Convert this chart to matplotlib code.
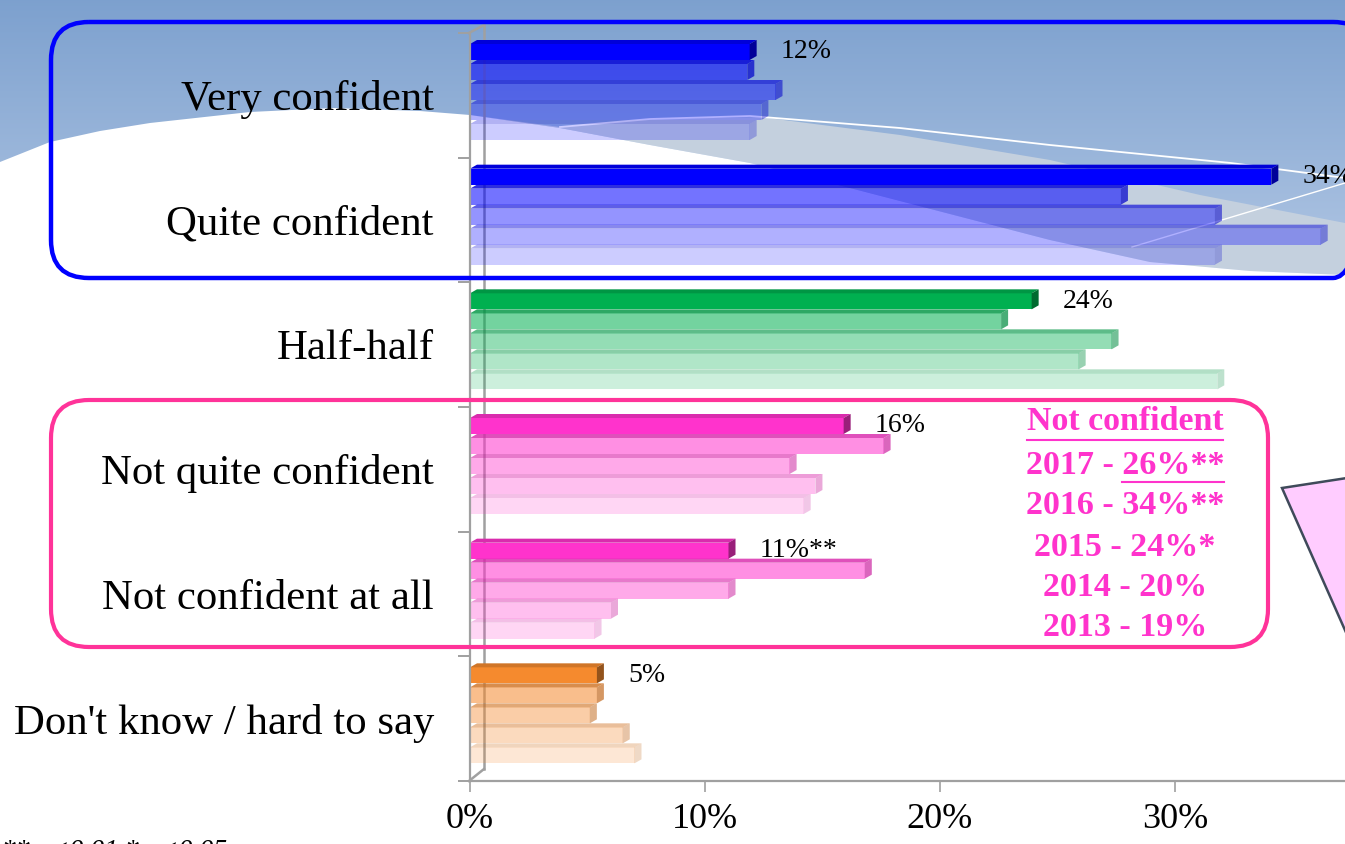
import numpy as np
import matplotlib
matplotlib.use('Agg')
import matplotlib.pyplot as plt
from matplotlib.patches import FancyBboxPatch, Polygon
from matplotlib.colors import to_rgb

plt.rcParams['font.family'] = ['Liberation Serif', 'DejaVu Serif']

# data (%), categories top -> bottom
categories = ['Very confident', 'Quite confident', 'Half-half',
              'Not quite confident', 'Not confident at all', "Don't know / hard to say"]
years = [2017, 2016, 2015, 2014, 2013]
v2017 = [11.9, 34.1, 23.9, 15.9, 11.0, 5.4]
v2016 = [11.8, 27.7, 22.6, 17.6, 16.8, 5.4]
v2015 = [13.0, 31.7, 27.3, 13.6, 11.0, 5.1]
v2014 = [12.4, 36.2, 25.9, 14.7, 6.0, 6.5]
v2013 = [11.9, 31.7, 31.8, 14.2, 5.3, 7.0]
labels_2017 = ['12%', '34%', '24%', '16%', '11%**', '5%']
xticks = [0, 10, 20, 30]
xticklabels = ['0%', '10%', '20%', '30%']
nc_title = 'Not confident'
nc_totals = ['26%**', '34%**', '24%*', '20%', '19%']
footnote = '** p<0.01 * p<0.05'

series = [v2017, v2016, v2015, v2014, v2013]
alphas = [1.0, 0.55, 0.42, 0.31, 0.2]
cat_colors = ['#0000FF', '#0000FF', '#00B050', '#FF33CC', '#FF33CC', '#F58A2E']

W, H = 1345, 844
fig = plt.figure(figsize=(W / 100, H / 100), dpi=100)
fig.patch.set_facecolor('white')

# ---- background (pixel coordinates)
bg = fig.add_axes([0, 0, 1, 1], zorder=0)
grad = np.linspace(0, 1, 300)[:, None, None]
top_c = np.array([0.49, 0.63, 0.81])
bot_c = np.array([0.71, 0.79, 0.90])
bg.imshow(top_c + (bot_c - top_c) * grad, extent=[0, W, 300, 0], aspect='auto')
white_top = [(0, 162), (50, 142), (100, 131), (150, 123), (250, 112), (333, 108),
             (420, 111), (470, 115), (560, 128), (650, 145), (750, 163), (850, 188),
             (950, 214), (1050, 240), (1150, 262), (1250, 271), (1345, 275)]
band_top = [(560, 127), (650, 119), (760, 117), (900, 135), (1050, 160),
            (1200, 195), (1345, 223)]
bg.add_patch(Polygon(band_top + white_top[::-1][:10], closed=True,
                     facecolor='#C4D0DE', edgecolor='none'))
bg.add_patch(Polygon(white_top + [(W, H), (0, H)], closed=True,
                     facecolor='white', edgecolor='none'))
swoosh = np.array([(560, 127), (650, 119), (750, 116), (900, 128), (1050, 145),
                   (1231, 163), (1345, 178)])
bg.plot(swoosh[:, 0], swoosh[:, 1], color='white', lw=1.3)
bg.plot([1132, 1345], [247, 183], color='white', lw=1)
# back wall of the 3D frame
axc = '#A0A0A0'
bg.plot([484, 484], [25, 769], color=axc, lw=1.8)
bg.plot([469, 484], [33, 25], color=axc, lw=1.8)
bg.plot([469, 484], [781, 769], color=axc, lw=1.8)
bg.set_xlim(0, W)
bg.set_ylim(H, 0)
bg.axis('off')

# ---- main chart
x0_px, ytop_px, ybot_px, px_per_pct = 470, 33, 781, 23.5
ax = fig.add_axes([x0_px / W, (H - ybot_px) / H, 1 - x0_px / W, (ybot_px - ytop_px) / H],
                  zorder=1)
ax.patch.set_visible(False)
px_per_unit = (ybot_px - ytop_px) / len(categories)
slot = 20 / px_per_unit
start = 7 / px_per_unit
dy = 4 / px_per_unit
dx = 7 / px_per_pct


def darker(c, f):
    return tuple(np.array(to_rgb(c)) * f)


for j, vals in enumerate(series):
    a = alphas[j]
    tops = np.arange(len(categories)) + start + j * slot
    ax.barh(tops + dy + (slot - dy) / 2, vals, height=slot - dy,
            color=[to_rgb(c) + (a,) for c in cat_colors], edgecolor='none')
    for i, v in enumerate(vals):
        t, b = tops[i], tops[i] + slot
        ftop = darker(cat_colors[i], 0.85) + (min(1, a * 1.5),)
        fside = darker(cat_colors[i], 0.6 if j == 0 else 0.8) + (min(1, a * 1.3),)
        ax.add_patch(Polygon([(0, t + dy), (dx, t), (v + dx, t), (v, t + dy)],
                             closed=True, facecolor=ftop, edgecolor='none'))
        ax.add_patch(Polygon([(v, t + dy), (v + dx, t), (v + dx, b - dy), (v, b)],
                             closed=True, facecolor=fside, edgecolor='none'))

for i, lab in enumerate(labels_2017):
    yc = i + start + dy + (slot - dy) / 2
    ax.annotate(lab, (v2017[i], yc), xytext=(31, 0), textcoords='offset pixels',
                ha='left', va='center', fontsize=20, color='black')

ax.set_xlim(0, (W - x0_px) / px_per_pct)
ax.set_ylim(len(categories), 0)
ax.set_xticks(xticks)
ax.set_xticklabels(xticklabels)
ax.set_yticks(np.arange(len(categories)) + 0.5)
ax.set_yticklabels(categories)
ax.set_yticks(np.arange(len(categories) + 1), minor=True)
ax.tick_params(axis='y', which='major', length=0, pad=26, labelsize=30.8)
ax.tick_params(axis='y', which='minor', length=8.6, width=1.4, color=axc)
ax.tick_params(axis='x', length=8, width=1.2, color=axc, labelsize=26, pad=8)
for s in ['top', 'right']:
    ax.spines[s].set_visible(False)
for s in ['left', 'bottom']:
    ax.spines[s].set_color(axc)
    ax.spines[s].set_linewidth(1.6)
    ax.spines[s].set_zorder(5)

# ---- overlay: group boxes, call-out, summary text
ov = fig.add_axes([0, 0, 1, 1], zorder=2)
ov.set_xlim(0, W)
ov.set_ylim(H, 0)
ov.axis('off')
ov.add_patch(FancyBboxPatch((51, 22), 1320, 256, boxstyle='round,pad=0,rounding_size=38',
                            facecolor='none', edgecolor='#0000FF', lw=3.2))
ov.add_patch(FancyBboxPatch((51, 400), 1217, 247, boxstyle='round,pad=0,rounding_size=38',
                            facecolor='none', edgecolor='#FF3399', lw=3.0))
ov.add_patch(Polygon([(1282, 488), (1360, 476), (1360, 664)], closed=True,
                     facecolor='#FFCCFF', edgecolor='#3F4A5A', lw=1.8))

pink = '#FF33CC'
ys = [422, 465, 505, 547, 588, 628]
title_t = ov.text(1125, ys[0], nc_title, ha='center', va='center', fontsize=24.5,
                  fontweight='bold', color=pink)
line_texts = []
for k, (yr, tot) in enumerate(zip(years, nc_totals)):
    line_texts.append(ov.text(1125, ys[k + 1], f'{yr} - {tot}', ha='center', va='center',
                              fontsize=24.5, fontweight='bold', color=pink))

fig.canvas.draw()
r = fig.canvas.get_renderer()
inv = ov.transData.inverted()
bb = title_t.get_window_extent(r)
(xa, _), (xb, _) = inv.transform([(bb.x0, 0), (bb.x1, 0)])
ov.plot([xa, xb], [440, 440], color=pink, lw=1.5)
bb2 = line_texts[0].get_window_extent(r)
pre = ov.text(0, -100, f'{years[0]} - ', fontsize=24.5, fontweight='bold')
wpre = pre.get_window_extent(r).width
pre.remove()
(xa, _), (xb, _) = inv.transform([(bb2.x0 + wpre, 0), (bb2.x1, 0)])
ov.plot([xa, xb], [482, 482], color=pink, lw=1.5)

ov.text(2, 858, footnote, ha='left', va='baseline', fontsize=20, style='italic',
        color='black')

fig.savefig('out.png', dpi=100)
